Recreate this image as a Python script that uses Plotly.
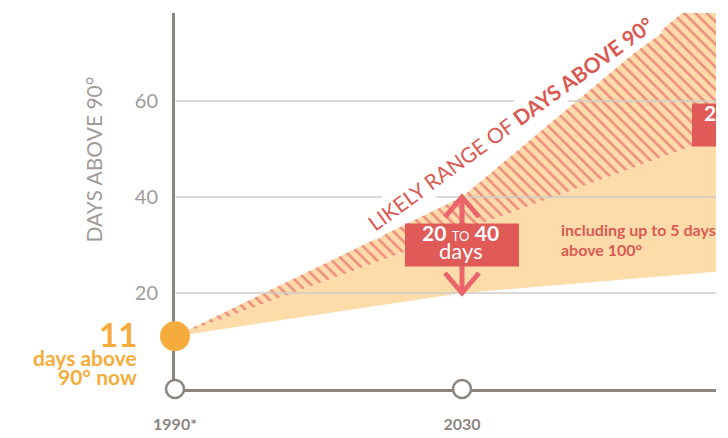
import plotly.graph_objects as go

# ---- data -------------------------------------------------------------
years = [1990, 2030, 2070]
low_days = [11, 20, 25]        # lower edge of the likely range
mid_days = [11, 33, 55]        # where the hatching fades out
high_days = [11, 40, 90]       # upper edge of the likely range
now_year = 1990
now_days = 11
y_ticks = [20, 40, 60, 80]
x_tick_vals = [1990, 2030, 2070]
x_tick_text = ["1990*", "2030", "2070"]
range_years = [2030, 2070]
range_bounds = [(20, 40), (25, 90)]
range_label_y = [30, 55]
extreme_note = "including up to 5 days<br>above 100°"

# ---- geometry ---------------------------------------------------------
W, H = 716, 438
ML, MR, MT, MB = 175, 0, 13, 49
PX_PER_YEAR = 7.175
PX_PER_DAY = 4.8
x_range = [1990, 1990 + (W - ML - MR) / PX_PER_YEAR]
y_range = [0, (H - MT - MB) / PX_PER_DAY]


def px_to_year(px):
    return x_range[0] + (px - ML) / PX_PER_YEAR


def px_to_days(py):
    return (H - MB - py) / PX_PER_DAY


FONT = "Lato"
GREY = "#8C8580"
TICK_GREY = "#A19C99"
GRID = "#CFCBC8"
ORANGE = "#F6AC3C"
PALE = "#FDDCAA"
HATCH = "#EE8E7E"
RED = "#E05A58"
ARROW = "#E9656B"
TEXT_RED = "#DA5A52"

fig = go.Figure()

# likely-range band: plain lower part, hatched upper part
fig.add_trace(go.Scatter(x=years, y=low_days, mode="lines",
                         line=dict(width=0, color=PALE), hoverinfo="skip"))
fig.add_trace(go.Scatter(x=years, y=mid_days, mode="lines", fill="tonexty",
                         fillcolor=PALE, line=dict(width=0, color=PALE),
                         hoverinfo="skip"))
fig.add_trace(go.Scatter(x=years, y=high_days, mode="lines", fill="tonexty",
                         fillcolor=PALE, line=dict(width=0, color=PALE),
                         fillpattern=dict(shape="\\", size=8, solidity=0.32,
                                          fgcolor=HATCH, bgcolor=PALE,
                                          fillmode="replace"),
                         hoverinfo="skip"))

# horizontal gridlines over the band
gx, gy = [], []
for v in y_ticks:
    gx += [x_range[0], x_range[1], None]
    gy += [v, v, None]
fig.add_trace(go.Scatter(x=gx, y=gy, mode="lines",
                         line=dict(color=GRID, width=1.5), hoverinfo="skip"))

# double-headed arrow spanning the 2030 range
hx = 17 / PX_PER_YEAR
hy = 20 / PX_PER_DAY
lo, hi = range_bounds[0]
yr0 = range_years[0]
ax_x = [yr0, yr0, None,
        yr0 - hx, yr0, yr0 + hx, None,
        yr0 - hx, yr0, yr0 + hx]
ax_y = [lo, hi, None,
        hi - hy, hi, hi - hy, None,
        lo + hy, lo, lo + hy]
fig.add_trace(go.Scatter(x=ax_x, y=ax_y, mode="lines",
                         line=dict(color=ARROW, width=5),
                         hoverinfo="skip", cliponaxis=False))

# red label boxes with the range in days
bw = 57 / PX_PER_YEAR
bh = 21.5 / PX_PER_DAY
for yr, cy in zip(range_years, range_label_y):
    fig.add_trace(go.Scatter(
        x=[yr - bw, yr + bw, yr + bw, yr - bw, yr - bw],
        y=[cy - bh, cy - bh, cy + bh, cy + bh, cy - bh],
        mode="lines", fill="toself", fillcolor=RED,
        line=dict(width=0, color=RED), hoverinfo="skip"))

# box text; labels are anchored at their left end (half a text width
# left of the year) so a label running past the plot edge is clipped
half_w = [40, 45]
half_w_days = [23, 23]
fig.add_trace(go.Scatter(
    x=[yr - hw / PX_PER_YEAR for yr, hw in zip(range_years, half_w)],
    y=[cy + 9 / PX_PER_DAY for cy in range_label_y], mode="text",
    textposition="middle right",
    text=[f"<b>{a}</b> <span style='font-size:13px'>TO</span> <b>{b}</b>"
          for a, b in range_bounds],
    textfont=dict(family=FONT, size=21, color="white"), hoverinfo="skip"))
fig.add_trace(go.Scatter(
    x=[yr - hw / PX_PER_YEAR for yr, hw in zip(range_years, half_w_days)],
    y=[cy - 8 / PX_PER_DAY for cy in range_label_y], mode="text",
    textposition="middle right",
    text=["days"] * len(range_years),
    textfont=dict(family=FONT, size=22, color="white"), hoverinfo="skip"))

# note about the hottest days
fig.add_trace(go.Scatter(
    x=[px_to_year(561)], y=[px_to_days(242)], mode="text",
    text=[f"<b>{extreme_note}</b>"], textposition="middle right",
    textfont=dict(family=FONT, size=16, color=TEXT_RED), hoverinfo="skip"))

# hollow year markers on the time axis
fig.add_trace(go.Scatter(x=x_tick_vals, y=[0] * len(x_tick_vals), mode="markers",
                         marker=dict(size=18, color="white",
                                     line=dict(color=GREY, width=2.5)),
                         cliponaxis=False, hoverinfo="skip"))

# today's value
fig.add_trace(go.Scatter(x=[now_year], y=[now_days], mode="markers",
                         marker=dict(size=30, color=ORANGE, line=dict(width=0)),
                         cliponaxis=False, hoverinfo="skip"))

annotations = []

# label along the top of the band
annotations.append(dict(
    xref="x", x=px_to_year(510), yref="y", y=px_to_days(123),
    showarrow=False, textangle=-36, bgcolor="white", borderpad=3,
    text="LIKELY RANGE OF <b>DAYS ABOVE 90°</b>",
    font=dict(family=FONT, size=21, color=TEXT_RED)))

# today's count next to the marker
annotations.append(dict(
    xref="paper", x=0, xshift=-36, xanchor="right", yref="y", y=now_days, yshift=2,
    showarrow=False, text=f"<b>{now_days}</b>",
    font=dict(family=FONT, size=33, color=ORANGE)))
annotations.append(dict(
    xref="paper", x=0, xshift=-36, xanchor="right", yref="y", y=now_days, yshift=-21,
    showarrow=False, text="<b>days above</b>",
    font=dict(family=FONT, size=21, color=ORANGE)))
annotations.append(dict(
    xref="paper", x=0, xshift=-36, xanchor="right", yref="y", y=now_days, yshift=-40,
    showarrow=False, text="<b>90° now</b>",
    font=dict(family=FONT, size=21, color=ORANGE)))

# vertical axis title
annotations.append(dict(
    xref="paper", x=0, xshift=-97, yref="y", y=px_to_days(160),
    showarrow=False, textangle=-90, text="DAYS ABOVE 90°",
    font=dict(family=FONT, size=21, color=TICK_GREY)))

fig.update_layout(
    width=W, height=H,
    margin=dict(l=ML, r=MR, t=MT, b=MB, autoexpand=False),
    paper_bgcolor="white", plot_bgcolor="white",
    showlegend=False,
    annotations=annotations,
    xaxis=dict(range=x_range, tickvals=x_tick_vals, ticktext=x_tick_text,
               showgrid=False, zeroline=False, showline=True,
               linecolor=GREY, linewidth=3, ticks="", layer="below traces",
               ticklabelstandoff=19,
               tickfont=dict(family=FONT, size=16, color=GREY, weight="bold")),
    yaxis=dict(range=y_range, tickvals=y_ticks,
               showgrid=False, zeroline=False, showline=True,
               linecolor=GREY, linewidth=3, ticks="", layer="below traces",
               ticklabelstandoff=10,
               tickfont=dict(family=FONT, size=20, color=TICK_GREY)),
)

fig.write_html("out.html")
